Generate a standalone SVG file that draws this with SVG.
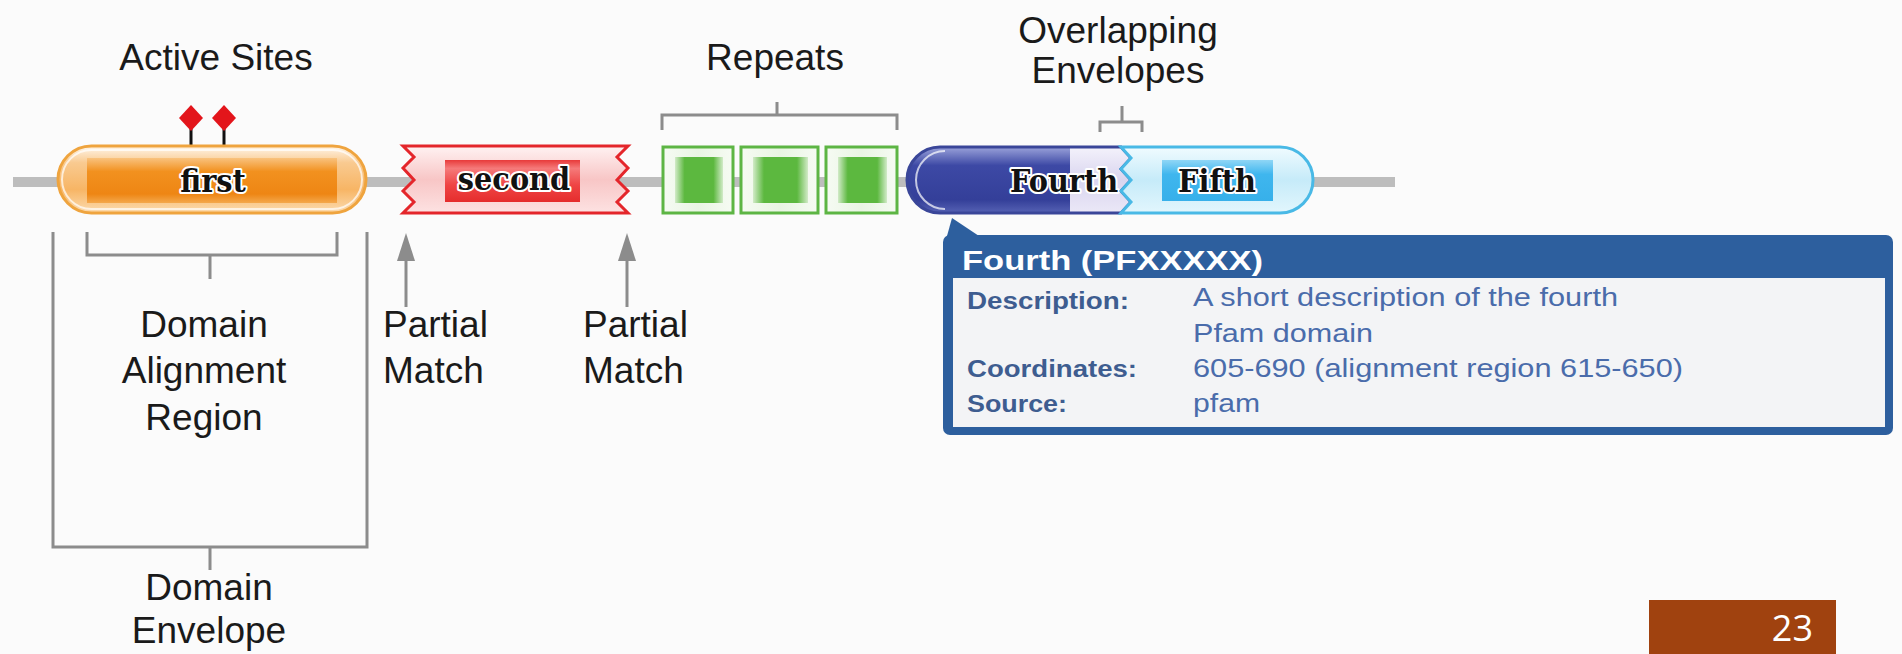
<svg xmlns="http://www.w3.org/2000/svg" width="1902" height="654" viewBox="0 0 1902 654">
<style>
.lbl{font-family:"Liberation Sans",Arial,sans-serif;font-size:37px;fill:#1a1a1a;}
.mid{text-anchor:middle;}
.dom{font-family:"DejaVu Serif Condensed","DejaVu Serif",serif;font-stretch:condensed;font-weight:bold;font-size:32px;fill:#111;stroke:#fff;stroke-width:4px;stroke-linejoin:round;paint-order:stroke fill;}
.br{fill:none;stroke:#8c8c8c;stroke-width:3;}
.tipH{font-family:"Liberation Sans",Arial,sans-serif;font-weight:bold;font-size:28px;fill:#fff;}
.tipL{font-family:"Liberation Sans",Arial,sans-serif;font-weight:bold;font-size:24px;fill:#3e5d90;}
.tipV{font-family:"Liberation Sans",Arial,sans-serif;font-size:26px;fill:#4a6cab;}
.rep{fill:url(#gRepBox);stroke:#5db544;stroke-width:3;}
.repIn{fill:url(#gRepIn);}
</style>
<defs>
<linearGradient id="gOrOut" x1="0" y1="0" x2="0" y2="1">
<stop offset="0" stop-color="#fff6ea"/><stop offset="0.25" stop-color="#f9ca90"/><stop offset="0.65" stop-color="#f7b565"/><stop offset="1" stop-color="#fcdcb0"/>
</linearGradient>
<linearGradient id="gOrIn" x1="0" y1="0" x2="0" y2="1">
<stop offset="0" stop-color="#f9c27e"/><stop offset="0.3" stop-color="#f2911f"/><stop offset="0.8" stop-color="#ee8614"/><stop offset="1" stop-color="#f4a84c"/>
</linearGradient>
<linearGradient id="gRdOut" x1="0" y1="0" x2="0" y2="1">
<stop offset="0" stop-color="#fff2f2"/><stop offset="0.5" stop-color="#f8c6c6"/><stop offset="1" stop-color="#fde2e2"/>
</linearGradient>
<linearGradient id="gRdIn" x1="0" y1="0" x2="0" y2="1">
<stop offset="0" stop-color="#e83a3a"/><stop offset="0.2" stop-color="#f57a7a"/><stop offset="0.6" stop-color="#ef4444"/><stop offset="1" stop-color="#e52d2d"/>
</linearGradient>
<linearGradient id="gRepBox" x1="0" y1="0" x2="1" y2="0">
<stop offset="0" stop-color="#f6fbf3"/><stop offset="0.5" stop-color="#e9f5e3"/><stop offset="1" stop-color="#f6fbf3"/>
</linearGradient>
<linearGradient id="gRepIn" x1="0" y1="0" x2="1" y2="0">
<stop offset="0" stop-color="#d2ebc8"/><stop offset="0.2" stop-color="#5cb83f"/><stop offset="0.8" stop-color="#5cb83f"/><stop offset="1" stop-color="#d2ebc8"/>
</linearGradient>
<linearGradient id="gBlOut" x1="0" y1="0" x2="0" y2="1">
<stop offset="0" stop-color="#f4f2fb"/><stop offset="0.5" stop-color="#d9d5ef"/><stop offset="1" stop-color="#ebe8f7"/>
</linearGradient>
<linearGradient id="gBlIn" x1="0" y1="0" x2="0" y2="1">
<stop offset="0" stop-color="#9aa2da"/><stop offset="0.28" stop-color="#3d49a5"/><stop offset="0.8" stop-color="#343f99"/><stop offset="1" stop-color="#5662b4"/>
</linearGradient>
<linearGradient id="gCyOut" x1="0" y1="0" x2="0" y2="1">
<stop offset="0" stop-color="#f0fbff"/><stop offset="0.5" stop-color="#c6ebf9"/><stop offset="1" stop-color="#e2f6fd"/>
</linearGradient>
<linearGradient id="gCyIn" x1="0" y1="0" x2="0" y2="1">
<stop offset="0" stop-color="#8fd6f6"/><stop offset="0.35" stop-color="#3fb6ee"/><stop offset="1" stop-color="#37b0ea"/>
</linearGradient>
<clipPath id="cFourth">
<path d="M940 147 L1121 147 L1131 158 L1121 169 L1131 180 L1121 191 L1131 202 L1121 213 L940 213 A33 33 0 0 1 940 147 Z"/>
</clipPath>
<marker id="arr" markerUnits="userSpaceOnUse" viewBox="0 0 28 18" refX="16" refY="9" markerWidth="28" markerHeight="18" orient="auto">
<path d="M0 0 L28 9 L0 18 Z" fill="#8c8c8c"/>
</marker>
</defs>
<rect x="0" y="0" width="1902" height="654" fill="#fbfbfb"/>

<g id="backbone"><rect x="13" y="177" width="1382" height="10" fill="#bdbdbd"/></g>

<g id="connectors">
<path class="br" d="M662 130 V115 H897 V130 M777 115 V102"/>
<path class="br" d="M1100 132 V122 H1142 V132 M1122 122 V106"/>
<path class="br" d="M87 232 V255 H337 V232 M210 255 V279"/>
<path class="br" d="M53 232 V547 H367 V232 M210 547 V570"/>
<line x1="406" y1="307" x2="406" y2="245" stroke="#8c8c8c" stroke-width="3" marker-end="url(#arr)"/>
<line x1="627" y1="307" x2="627" y2="245" stroke="#8c8c8c" stroke-width="3" marker-end="url(#arr)"/>
</g>

<g id="active-sites">
<line x1="191" y1="128" x2="191" y2="148" stroke="#111" stroke-width="3"/>
<line x1="224" y1="128" x2="224" y2="148" stroke="#111" stroke-width="3"/>
<polygon points="191,105 203,118 191,131 179,118" fill="#e3151b"/>
<polygon points="224,105 236,118 224,131 212,118" fill="#e3151b"/>
<text class="lbl mid" x="216" y="70">Active Sites</text>
</g>

<g id="first">
<rect x="58" y="146" width="308" height="67" rx="33.5" fill="url(#gOrOut)"/>
<rect x="87" y="158" width="250" height="45" fill="url(#gOrIn)"/>
<rect x="62" y="150" width="300" height="59" rx="29.5" fill="none" stroke="#fff" stroke-opacity="0.7" stroke-width="2"/>
<rect x="58" y="146" width="308" height="67" rx="33.5" fill="none" stroke="#efa43e" stroke-width="3"/>
<text class="dom mid" x="213" y="192">first</text>
</g>

<g id="second">
<path d="M403 146 L628 146 L617 157 L628 168 L617 180 L628 191 L617 202 L628 213 L403 213 L414 202 L403 191 L414 180 L403 168 L414 157 Z" fill="url(#gRdOut)" stroke="#e4262b" stroke-width="3" stroke-linejoin="miter"/>
<rect x="445" y="160" width="135" height="42" fill="url(#gRdIn)"/>
<text class="dom mid" x="514" y="190">second</text>
</g>

<g id="repeats">
<rect class="rep" x="663" y="147" width="70" height="66"/>
<rect class="repIn" x="675" y="157" width="48" height="46"/>
<rect class="rep" x="741" y="147" width="77" height="66"/>
<rect class="repIn" x="753" y="157" width="55" height="46"/>
<rect class="rep" x="826" y="147" width="71" height="66"/>
<rect class="repIn" x="838" y="157" width="49" height="46"/>
<text class="lbl mid" x="775" y="70">Repeats</text>
</g>

<g id="fourth">
<path d="M940 147 L1121 147 L1131 158 L1121 169 L1131 180 L1121 191 L1131 202 L1121 213 L940 213 A33 33 0 0 1 940 147 Z" fill="url(#gBlOut)"/>
<rect x="900" y="147" width="170" height="66" fill="url(#gBlIn)" clip-path="url(#cFourth)"/>
<path d="M945 151 A29 29 0 0 0 945 209" fill="none" stroke="#fff" stroke-opacity="0.7" stroke-width="2"/>
<path d="M940 147 L1121 147 L1131 158 L1121 169 L1131 180 L1121 191 L1131 202 L1121 213 L940 213 A33 33 0 0 1 940 147 Z" fill="none" stroke="#3a4699" stroke-width="3"/>
<text class="dom" x="1010" y="192">Fourth</text>
</g>

<g id="fifth">
<path d="M1121 147 L1280 147 A33 33 0 0 1 1280 213 L1121 213 L1131 202 L1121 191 L1131 180 L1121 169 L1131 158 Z" fill="url(#gCyOut)" stroke="#49b9e6" stroke-width="3"/>
<rect x="1162" y="160" width="111" height="41" fill="url(#gCyIn)"/>
<text class="dom mid" x="1217" y="192">Fifth</text>
</g>

<g id="overlap-label">
<text class="lbl mid" x="1118" y="43">Overlapping</text>
<text class="lbl mid" x="1118" y="83">Envelopes</text>
</g>

<g id="alignment-label">
<text class="lbl mid" x="204" y="337">Domain</text>
<text class="lbl mid" x="204" y="383">Alignment</text>
<text class="lbl mid" x="204" y="430">Region</text>
</g>

<g id="envelope-label">
<text class="lbl mid" x="209" y="600">Domain</text>
<text class="lbl mid" x="209" y="643">Envelope</text>
</g>

<g id="partial-1">
<text class="lbl" x="383" y="337">Partial</text>
<text class="lbl" x="383" y="383">Match</text>
</g>
<g id="partial-2">
<text class="lbl" x="583" y="337">Partial</text>
<text class="lbl" x="583" y="383">Match</text>
</g>

<g id="tooltip">
<polygon points="947,236 952,218 979,236" fill="#2d5f9e"/>
<rect x="943" y="235" width="950" height="200" rx="7" fill="#2d5f9e"/>
<rect x="953" y="278" width="932" height="149" fill="#f3f4f6"/>
<text class="tipH" x="962" y="270" textLength="301" lengthAdjust="spacingAndGlyphs">Fourth (PFXXXXX)</text>
<text class="tipL" x="967" y="309" textLength="162" lengthAdjust="spacingAndGlyphs">Description:</text>
<text class="tipL" x="967" y="377" textLength="170" lengthAdjust="spacingAndGlyphs">Coordinates:</text>
<text class="tipL" x="967" y="412" textLength="100" lengthAdjust="spacingAndGlyphs">Source:</text>
<text class="tipV" x="1193" y="306" textLength="425" lengthAdjust="spacingAndGlyphs">A short description of the fourth</text>
<text class="tipV" x="1193" y="342" textLength="180" lengthAdjust="spacingAndGlyphs">Pfam domain</text>
<text class="tipV" x="1193" y="377" textLength="490" lengthAdjust="spacingAndGlyphs">605-690 (alignment region 615-650)</text>
<text class="tipV" x="1193" y="412" textLength="67" lengthAdjust="spacingAndGlyphs">pfam</text>
</g>

<g id="page-number">
<rect x="1649" y="600" width="187" height="54" fill="#a0420f"/>
<text x="1813" y="641" text-anchor="end" font-family="'Open Sans','Liberation Sans',sans-serif" font-size="36" fill="#fff">23</text>
</g>
</svg>
